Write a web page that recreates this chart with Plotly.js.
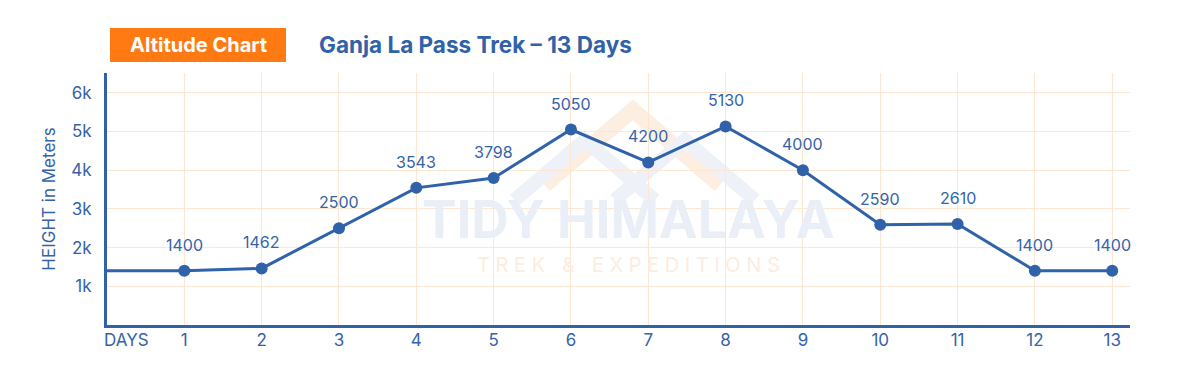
<!DOCTYPE html>
<html>
<head>
<meta charset="utf-8">
<script src="https://cdn.plot.ly/plotly-3.0.1.min.js"></script>
<style>html,body{margin:0;padding:0;background:#fff;}#chart{width:1200px;height:374px;}</style>
</head>
<body>
<div id="chart"></div>
<script>
// Data
const days = [0, 1, 2, 3, 4, 5, 6, 7, 8, 9, 10, 11, 12, 13];
const altitudes = [1400, 1400, 1462, 2500, 3543, 3798, 5050, 4200, 5130, 4000, 2590, 2610, 1400, 1400];
const dayTicks = [1, 2, 3, 4, 5, 6, 7, 8, 9, 10, 11, 12, 13];
const heightTicks = [1000, 2000, 3000, 4000, 5000, 6000];
const heightTickText = ['1k', '2k', '3k', '4k', '5k', '6k'];

const BLUE = '#2f62a8';
const TXT = '#3563a8';
const GRID = '#fde6d2';
const FONT = 'Inter, "Open Sans", sans-serif';

const trace = {
  x: days,
  y: altitudes,
  type: 'scatter',
  mode: 'lines+markers',
  line: {color: BLUE, width: 3},
  marker: {color: BLUE, opacity: 1, line: {width: 0}, size: days.map(d => d === 0 ? 0 : 12)},
  cliponaxis: false,
  hoverinfo: 'skip'
};

// value labels placed at each data point through the axes
const valueLabels = days.filter(d => d !== 0).map(d => {
  const i = days.indexOf(d);
  return {
    x: d, y: altitudes[i], xref: 'x', yref: 'y',
    text: String(altitudes[i]), showarrow: false,
    xanchor: 'center', yanchor: 'bottom', yshift: 14,
    font: {family: FONT, size: 16, color: TXT}
  };
});

// light watermark logo (decoration)
function px2x(p){ return (p - 108) / 77.2; }
function py2y(p){ return (325 - p) * 1000 / 38.7; }
function chevron(pts){
  return 'M ' + pts.map(p => px2x(p[0]) + ',' + py2y(p[1])).join(' L ');
}

const layout = {
  width: 1200,
  height: 374,
  margin: {l: 107, r: 70, t: 73, b: 49},
  paper_bgcolor: '#ffffff',
  plot_bgcolor: '#ffffff',
  showlegend: false,
  font: {family: FONT, color: TXT},
  xaxis: {
    range: [0, 13.23],
    tickvals: dayTicks,
    ticktext: dayTicks.map(String),
    showgrid: true,
    gridcolor: GRID,
    gridwidth: 1,
    zeroline: false,
    showline: true,
    linecolor: BLUE,
    linewidth: 3,
    ticks: '',
    ticklabelstandoff: -2,
    tickfont: {family: FONT, size: 17, color: TXT},
    fixedrange: true
  },
  yaxis: {
    range: [0, 6510],
    tickvals: heightTicks,
    ticktext: heightTickText,
    showgrid: true,
    gridcolor: GRID,
    gridwidth: 1,
    zeroline: false,
    showline: true,
    linecolor: BLUE,
    linewidth: 3,
    ticks: '',
    ticklabelstandoff: 9,
    tickfont: {family: FONT, size: 17, color: TXT},
    title: {text: 'HEIGHT in Meters', font: {family: FONT, size: 17, color: TXT}, standoff: 12},
    fixedrange: true
  },
  shapes: [
    {type: 'rect', xref: 'paper', yref: 'paper', layer: 'below',
     x0: (110 - 107) / 1023, x1: (286 - 107) / 1023,
     y0: (325 - 62) / 252, y1: (325 - 28) / 252,
     fillcolor: '#ff7a12', line: {width: 0}},
    {type: 'path', xref: 'x', yref: 'y', layer: 'below',
     path: chevron([[545, 185], [633, 110], [720, 185]]),
     line: {color: '#fdeee2', width: 16}},
    {type: 'path', xref: 'x', yref: 'y', layer: 'below',
     path: chevron([[515, 200], [585, 140], [655, 200]]),
     line: {color: '#eef1f8', width: 14}},
    {type: 'path', xref: 'x', yref: 'y', layer: 'below',
     path: chevron([[615, 200], [685, 140], [755, 200]]),
     line: {color: '#eef1f8', width: 14}}
  ],
  annotations: [
    {text: '<b>Altitude Chart</b>', xref: 'paper', yref: 'paper',
     x: (198 - 107) / 1023, y: (325 - 45) / 252, xanchor: 'center', yanchor: 'middle',
     showarrow: false, font: {family: FONT, size: 20, color: '#ffffff'}},
    {text: '<b>Ganja La Pass Trek – 13 Days</b>', xref: 'paper', yref: 'paper',
     x: (317 - 107) / 1023, y: (325 - 45) / 252, xanchor: 'left', yanchor: 'middle',
     showarrow: false, font: {family: FONT, size: 22.5, color: BLUE}},
    {text: 'DAYS', xref: 'paper', yref: 'paper', x: (102 - 107) / 1023, y: 0,
     xanchor: 'left', yanchor: 'top', yshift: -3, showarrow: false,
     font: {family: FONT, size: 17, color: TXT}},
    {text: '<b>TIDY HIMALAYA</b>', xref: 'paper', yref: 'paper',
     x: (628 - 107) / 1023, y: (325 - 220) / 252, xanchor: 'center', yanchor: 'middle',
     showarrow: false, font: {family: FONT, size: 52, color: '#e9eef7'}},
    {text: 'T R E K   &   E X P E D I T I O N S', xref: 'paper', yref: 'paper',
     x: (628 - 107) / 1023, y: (325 - 265) / 252, xanchor: 'center', yanchor: 'middle',
     showarrow: false, font: {family: FONT, size: 20, color: '#fdece0'}}
  ].concat(valueLabels)
};

Plotly.newPlot('chart', [trace], layout, {displayModeBar: false, staticPlot: true});
</script>
</body>
</html>
